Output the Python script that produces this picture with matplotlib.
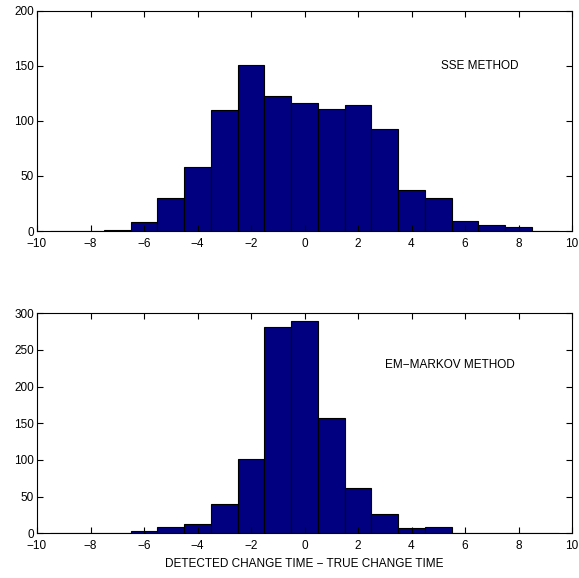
import matplotlib
matplotlib.use("Agg")
import matplotlib.pyplot as plt
import numpy as np

plt.rcParams['font.family'] = ['Liberation Sans', 'DejaVu Sans']

centers = list(range(-9, 10))
sse_counts = [0, 0, 1, 8, 30, 58, 110, 151, 123, 116, 111, 114, 93, 37, 30, 9, 5, 4, 0]
em_counts = [0, 0, 1, 3, 8, 13, 40, 102, 282, 289, 157, 62, 27, 7, 9, 1, 0, 0, 0]
xticks = [-10, -8, -6, -4, -2, 0, 2, 4, 6, 8, 10]
sse_yticks = [0, 50, 100, 150, 200]
em_yticks = [0, 50, 100, 150, 200, 250, 300]
bar_color = '#000080'

fig = plt.figure(figsize=(5.79, 5.78), dpi=100)
W, H = 579, 578
ax1 = fig.add_axes([37 / W, 1 - 231 / H, (572 - 37) / W, (231 - 10.7) / H])
ax2 = fig.add_axes([37 / W, 1 - 533.3 / H, (572 - 37) / W, (533.3 - 313.3) / H])

for ax, counts, yt, label, tx, ty in [
    (ax1, sse_counts, sse_yticks, 'SSE METHOD', 5.1, 150),
    (ax2, em_counts, em_yticks, 'EM\u2212MARKOV METHOD', 3.0, 230),
]:
    ax.bar(centers, counts, width=1.0, color=bar_color, edgecolor='black', linewidth=0.8)
    ax.set_xlim(-10, 10)
    ax.set_ylim(yt[0], yt[-1])
    ax.set_xticks(xticks)
    ax.set_xticklabels([str(t).replace('-', '\u2212') for t in xticks])
    ax.set_yticks(yt)
    ax.tick_params(direction='in', top=True, right=True, length=4, width=0.8,
                   labelsize=8.5)
    ax.tick_params(axis='x', pad=5)
    ax.tick_params(axis='y', pad=2)
    for s in ax.spines.values():
        s.set_linewidth(0.8)
    ax.text(tx, ty, label, fontsize=8.5, ha='left', va='center')

ax2.set_xlabel('DETECTED CHANGE TIME \u2212 TRUE CHANGE TIME', fontsize=8.5, labelpad=4)

fig.savefig('out.png', dpi=100)
